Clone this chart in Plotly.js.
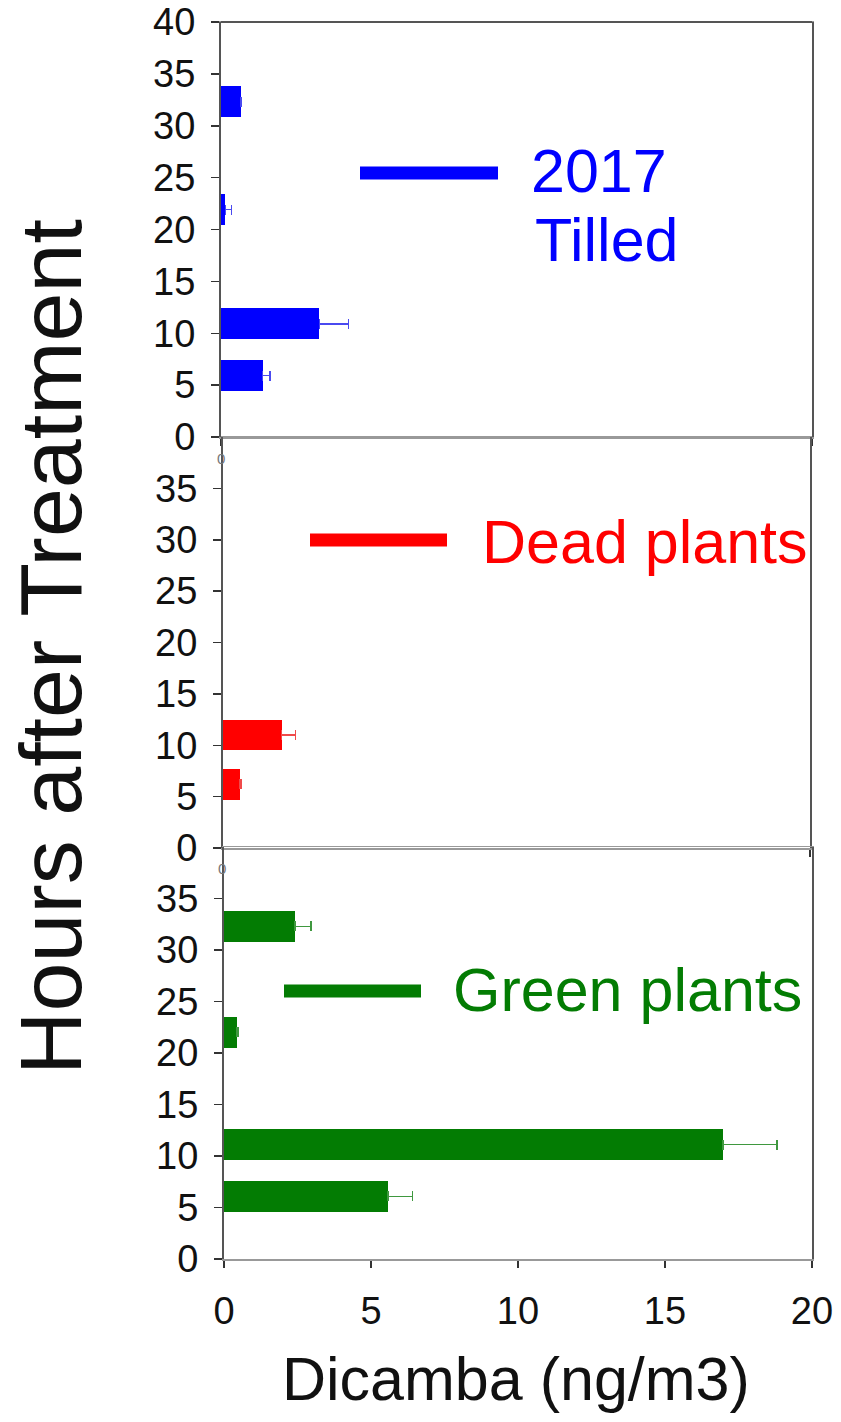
<!DOCTYPE html>
<html>
<head>
<meta charset="utf-8">
<script src="https://cdn.plot.ly/plotly-3.0.1.min.js"></script>
<style>html,body{margin:0;padding:0;background:#fff}#chart{width:841px;height:1422px}</style>
</head>
<body>
<div id="chart"></div>
<script>
// ---- data ----
const yTickVals = [0, 5, 10, 15, 20, 25, 30, 35, 40];
const yTickValsLower = [0, 5, 10, 15, 20, 25, 30, 35];
const xTickVals = [0, 5, 10, 15, 20];

const hoursTilled = [5.9, 10.9, 21.9, 32.3];
const dicambaTilled = [1.41, 3.33, 0.15, 0.67];
const errTilled = [0.25, 0.98, 0.2, 0.03];

const hoursDead = [6.2, 11.0];
const dicambaDead = [0.58, 2.0];
const errDead = [0.05, 0.48];

const hoursGreen = [6.1, 11.1, 22.0, 32.3];
const dicambaGreen = [5.58, 16.97, 0.44, 2.41];
const errGreen = [0.82, 1.84, 0.05, 0.55];

const labelTilled = ['2017', 'Tilled'];
const labelDead = 'Dead plants';
const labelGreen = 'Green plants';
const xTitle = 'Dicamba (ng/m3)';
const yTitle = 'Hours after Treatment';

// ---- layout helpers ----
const W = 841, H = 1422;
const px = v => v / W;
const py = v => 1 - v / H;
const FONT = 'Arial, "Liberation Sans", sans-serif';
const BLUE = '#0000FF', RED = '#FF0000', GREEN = '#037C03';

function barTrace(y, x, err, color, errColor, xa, ya) {
  return {
    type: 'bar', orientation: 'h', x: x, y: y, width: 3,
    xaxis: xa, yaxis: ya,
    marker: {color: color, line: {width: 0}},
    error_x: {type: 'data', array: err, arrayminus: err.map(() => 0), symmetric: false,
              visible: true, color: errColor, thickness: 1.3, width: 5},
    hoverinfo: 'x+y', showlegend: false
  };
}

const data = [
  barTrace(hoursTilled, dicambaTilled, errTilled, BLUE, '#4a4af0', 'x', 'y'),
  barTrace(hoursDead, dicambaDead, errDead, RED, '#f04a4a', 'x2', 'y2'),
  barTrace(hoursGreen, dicambaGreen, errGreen, GREEN, '#3f983f', 'x3', 'y3')
];

function yAxis(domain, anchor, tickvals) {
  return {
    domain: domain, anchor: anchor, range: [0, 40], tickvals: tickvals,
    ticks: 'outside', ticklen: 8, tickwidth: 1.5, tickcolor: '#333',
    tickfont: {family: FONT, size: 38, color: '#111'}, ticklabelstandoff: 8,
    showline: true, linecolor: '#555', linewidth: 2, mirror: true,
    showgrid: false, zeroline: false, fixedrange: true
  };
}
function xAxis(domain, anchor, tickvals, labels) {
  return {
    domain: domain, anchor: anchor, range: [0, 20], tickvals: tickvals,
    ticks: 'outside', ticklen: 7, tickwidth: 1.5, tickcolor: '#333',
    showticklabels: labels, tickfont: {family: FONT, size: 38, color: '#111'},
    ticklabelstandoff: 11,
    showline: true, linecolor: '#999', linewidth: 1.5, mirror: true,
    showgrid: false, zeroline: false, fixedrange: true
  };
}

function legendLine(x0, x1, y, color) {
  return {type: 'line', xref: 'paper', yref: 'paper', x0: px(x0), x1: px(x1), y0: py(y), y1: py(y),
          line: {color: color, width: 13}};
}
function label(text, x, y, color, size) {
  return {text: text, xref: 'paper', yref: 'paper', x: px(x), y: py(y), xanchor: 'left', yanchor: 'middle',
          showarrow: false, font: {family: FONT, size: size, color: color}};
}

const layout = {
  width: W, height: H, autosize: false,
  margin: {l: 0, r: 0, t: 0, b: 0},
  paper_bgcolor: '#fff', plot_bgcolor: 'rgba(0,0,0,0)',
  bargap: 0,
  xaxis: xAxis([px(221), px(812)], 'y', [0, 20], false),
  yaxis: yAxis([py(437), py(22)], 'x', yTickVals),
  xaxis2: xAxis([px(223), px(810)], 'y2', [0, 20], false),
  yaxis2: yAxis([py(848), py(437)], 'x2', yTickValsLower),
  xaxis3: xAxis([px(224), px(812)], 'y3', xTickVals, true),
  yaxis3: yAxis([py(1259), py(847)], 'x3', yTickValsLower),
  shapes: [
    {type: 'line', xref: 'paper', yref: 'paper', x0: px(221), x1: px(812), y0: py(22), y1: py(22),
     line: {color: '#555', width: 2}},
    legendLine(360, 498, 173, BLUE),
    legendLine(310, 447, 540, RED),
    legendLine(284, 421, 991, GREEN)
  ],
  annotations: [
    label(labelTilled[0], 529, 171, BLUE, 61),
    label(labelTilled[1], 533, 240, BLUE, 61),
    label(labelDead, 480, 542, RED, 61),
    label(labelGreen, 451, 990, GREEN, 61),
    {text: '0', xref: 'paper', yref: 'paper', x: px(221), y: py(458), xanchor: 'center', yanchor: 'middle',
     showarrow: false, font: {family: FONT, size: 15, color: '#777'}},
    {text: '0', xref: 'paper', yref: 'paper', x: px(222), y: py(868), xanchor: 'center', yanchor: 'middle',
     showarrow: false, font: {family: FONT, size: 15, color: '#777'}},
    {text: xTitle, xref: 'paper', yref: 'paper', x: px(516), y: py(1379), xanchor: 'center', yanchor: 'middle',
     showarrow: false, font: {family: FONT, size: 61, color: '#111'}},
    {text: yTitle, xref: 'paper', yref: 'paper', x: px(51), y: py(647), xanchor: 'center', yanchor: 'middle',
     textangle: -90, showarrow: false, font: {family: FONT, size: 88, color: '#111'}}
  ]
};

Plotly.newPlot('chart', data, layout, {displayModeBar: false, staticPlot: true});
</script>
</body>
</html>
